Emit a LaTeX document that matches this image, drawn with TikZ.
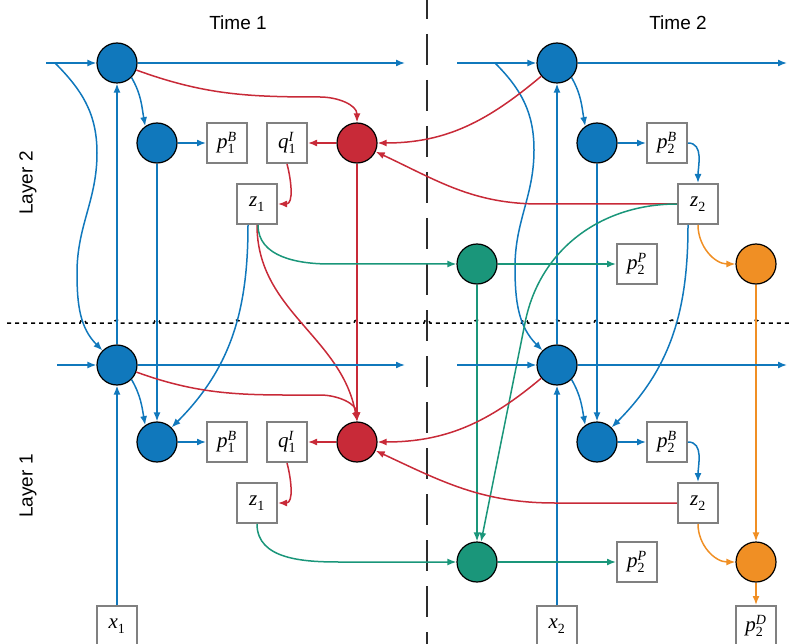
\documentclass[tikz,border=0pt]{standalone}
\usepackage{fontspec}
\setsansfont{Liberation Sans}
\newfontfamily\labelfont{Liberation Serif}
\usetikzlibrary{arrows.meta}
\definecolor{netblue}{RGB}{16,120,188}
\definecolor{netred}{RGB}{200,42,56}
\definecolor{netgreen}{RGB}{26,150,122}
\definecolor{netorange}{RGB}{240,143,36}
\definecolor{boxgray}{RGB}{128,128,128}
\definecolor{sepgray}{RGB}{45,45,45}

% label as letter, subscript, superscript
\newcommand{\lbl}[3]{\textit{#1}$_{\mbox{\fontsize{14}{14}\selectfont #2}}^{\mbox{\fontsize{14}{14}\selectfont\itshape #3}}$}

\tikzset{
  unit/.style={circle, draw=black, line width=1.2pt, minimum size=40pt, inner sep=0pt},
  outbox/.style={rectangle, draw=boxgray, line width=2pt, fill=white, minimum size=40pt, inner sep=0pt, font=\labelfont\fontsize{21}{24}\selectfont},
  link/.style={line width=1.5pt, -{Latex[length=9pt,width=7pt]}},
  headline/.style={font=\sffamily\fontsize{19}{22}\selectfont},
}

\begin{document}
\begin{tikzpicture}[x=1pt, y=1pt]
    \useasboundingbox (0,0) rectangle (792,-644);
    % separators
    \draw[sepgray, line width=2.5pt, dash pattern=on 31pt off 15pt] (427,12) -- (427,-650);
    \draw[black, line width=1.5pt, dash pattern=on 4pt off 4pt] (7,-323)
        foreach \h in {83,117,157,237,357,427,477,525,557,597,672,756} { -- (\h-3,-323) arc[start angle=180, end angle=0, radius=3pt] } -- (792,-323);

    % headings
    \node[headline] (time1) at (238,-23) {Time 1};
    \node[headline] (time2) at (678,-23) {Time 2};
    \node[headline, rotate=90] (layer2) at (28,-183) {Layer 2};
    \node[headline, rotate=90] (layer1) at (28,-486) {Layer 1};

    % layer 2
    \node[unit, fill=netblue] (aT1L2) at (117,-63) {};
    \node[unit, fill=netblue] (bT1L2) at (157,-143) {};
    \node[outbox] (pbT1L2) at (227,-143) {\lbl{p}{1}{B}};
    \node[outbox] (qT1L2) at (287,-143) {\lbl{q}{1}{I}};
    \node[unit, fill=netred] (rT1L2) at (357,-143) {};
    \node[outbox] (zT1L2) at (257,-204) {\lbl{z}{1}{}};
    \node[unit, fill=netblue] (aT2L2) at (557,-63) {};
    \node[unit, fill=netblue] (bT2L2) at (597,-143) {};
    \node[outbox] (pbT2L2) at (667,-143) {\lbl{p}{2}{B}};
    \node[outbox] (zT2L2) at (698,-204) {\lbl{z}{2}{}};
    \node[unit, fill=netgreen] (gT2L2) at (477,-264) {};
    \node[outbox] (ppT2L2) at (637,-264) {\lbl{p}{2}{P}};
    \node[unit, fill=netorange] (oT2L2) at (756,-264) {};

    % layer 1
    \node[unit, fill=netblue] (aT1L1) at (117,-365) {};
    \node[unit, fill=netblue] (bT1L1) at (157,-442) {};
    \node[outbox] (pbT1L1) at (227,-442) {\lbl{p}{1}{B}};
    \node[outbox] (qT1L1) at (287,-442) {\lbl{q}{1}{I}};
    \node[unit, fill=netred] (rT1L1) at (357,-442) {};
    \node[outbox] (zT1L1) at (257,-503) {\lbl{z}{1}{}};
    \node[unit, fill=netblue] (aT2L1) at (557,-365) {};
    \node[unit, fill=netblue] (bT2L1) at (597,-442) {};
    \node[outbox] (pbT2L1) at (667,-442) {\lbl{p}{2}{B}};
    \node[outbox] (zT2L1) at (698,-503) {\lbl{z}{2}{}};
    \node[unit, fill=netgreen] (gT2L1) at (477,-562) {};
    \node[outbox] (ppT2L1) at (637,-562) {\lbl{p}{2}{P}};
    \node[unit, fill=netorange] (oT2L1) at (756,-562) {};
    \node[outbox] (pdT2L1) at (756,-626) {\lbl{p}{2}{D}};
    \node[outbox] (x1) at (117,-626) {\lbl{x}{1}{}};
    \node[outbox] (x2) at (557,-626) {\lbl{x}{2}{}};

    % time 1, layer 2
    \coordinate (inT1L2) at (46,-63);
    \coordinate (outT1L2) at (405,-63);
    \coordinate (fork1) at (55,-63);
    \draw[link, netblue] (inT1L2) -- (aT1L2);
    \draw[link, netblue] (aT1L2) -- (outT1L2);
    \draw[link, netblue] (fork1) to[out=-45,in=90] (97,-153) to[out=-90,in=90] (77,-273) to[out=-90,in=135] (aT1L1.135);
    \draw[link, netblue] (aT1L2.-45) to[out=-60,in=100] (bT1L2.125);
    \draw[link, netblue] (bT1L2) -- (pbT1L2);
    \draw[link, netblue] (bT1L2) -- (bT1L1);
    \draw[link, netblue] (aT1L1) -- (aT1L2);
    \draw[link, netblue] (x1) -- (aT1L1);
    \draw[link, netblue] ([xshift=-9pt]zT1L2.south) to[out=-90,in=45] (bT1L1.45);
    \draw[link, netred] (aT1L2) to[out=-20,in=180] (320,-97) to[out=0,in=90] (rT1L2);
    \draw[link, netred] (rT1L2) -- (qT1L2);
    \draw[link, netred] (qT1L2.south) to[out=-75,in=0] (zT1L2.east);
    \draw[link, netred] (rT1L2) -- (rT1L1);
    \draw[link, netred] (zT1L2.south) to[out=-90,in=100] (rT1L1.north);
    \draw[link, netgreen] ([xshift=1pt]zT1L2.south) to[out=-90,in=180] (330,-264) -- (gT2L2);

    % time 2, layer 2
    \coordinate (inT2L2) at (457,-63);
    \coordinate (outT2L2) at (787,-63);
    \coordinate (fork2) at (495,-63);
    \draw[link, netblue] (inT2L2) -- (aT2L2);
    \draw[link, netblue] (aT2L2) -- (outT2L2);
    \draw[link, netblue] (fork2) to[out=-45,in=90] (534,-150) to[out=-90,in=90] (515,-267) to[out=-90,in=135] (aT2L1.135);
    \draw[link, netblue] (aT2L2.-45) to[out=-60,in=100] (bT2L2.125);
    \draw[link, netblue] (bT2L2) -- (pbT2L2);
    \draw[link, netblue] (pbT2L2.east) to[out=0,in=90] (zT2L2.north);
    \draw[link, netblue] (bT2L2) -- (bT2L1);
    \draw[link, netblue] (aT2L1) -- (aT2L2);
    \draw[link, netblue] (x2) -- (aT2L1);
    \draw[link, netblue] ([xshift=-10pt]zT2L2.south) to[out=-90,in=45] (bT2L1.45);
    \draw[link, netred] (aT2L2) to[out=-140,in=0] (rT1L2);
    \draw[link, netred] (zT2L2.west) -- (540,-204) to[out=180,in=-25] (rT1L2);
    \draw[link, netgreen] (zT2L2.west) to[out=180,in=79] (525,-323) -- (gT2L1);
    \draw[link, netgreen] (gT2L2) -- (ppT2L2);
    \draw[link, netgreen] (gT2L2) -- (gT2L1);
    \draw[link, netorange] (zT2L2.south) to[out=-90,in=180] (oT2L2);
    \draw[link, netorange] (oT2L2) -- (oT2L1);

    % time 1, layer 1
    \coordinate (inT1L1) at (57,-365);
    \coordinate (outT1L1) at (405,-365);
    \draw[link, netblue] (inT1L1) -- (aT1L1);
    \draw[link, netblue] (aT1L1) -- (outT1L1);
    \draw[link, netblue] (aT1L1.-45) to[out=-60,in=100] (bT1L1.125);
    \draw[link, netblue] (bT1L1) -- (pbT1L1);
    \draw[link, netred] (aT1L1) to[out=-20,in=180] (320,-395) to[out=0,in=90] (rT1L1);
    \draw[link, netred] (rT1L1) -- (qT1L1);
    \draw[link, netred] (qT1L1.south) to[out=-75,in=0] (zT1L1.east);
    \draw[link, netgreen] (zT1L1.south) to[out=-90,in=180] (340,-562) -- (gT2L1);

    % time 2, layer 1
    \coordinate (inT2L1) at (457,-365);
    \coordinate (outT2L1) at (787,-365);
    \draw[link, netblue] (inT2L1) -- (aT2L1);
    \draw[link, netblue] (aT2L1) -- (outT2L1);
    \draw[link, netblue] (aT2L1.-45) to[out=-60,in=100] (bT2L1.125);
    \draw[link, netblue] (bT2L1) -- (pbT2L1);
    \draw[link, netblue] (pbT2L1.east) to[out=0,in=90] (zT2L1.north);
    \draw[link, netred] (aT2L1) to[out=-140,in=0] (rT1L1);
    \draw[link, netred] (zT2L1.west) -- (555,-503) to[out=180,in=-25] (rT1L1);
    \draw[link, netgreen] (gT2L1) -- (ppT2L1);
    \draw[link, netorange] (zT2L1.south) to[out=-90,in=180] (oT2L1);
    \draw[link, netorange] (oT2L1) -- (pdT2L1);
\end{tikzpicture}
\end{document}
